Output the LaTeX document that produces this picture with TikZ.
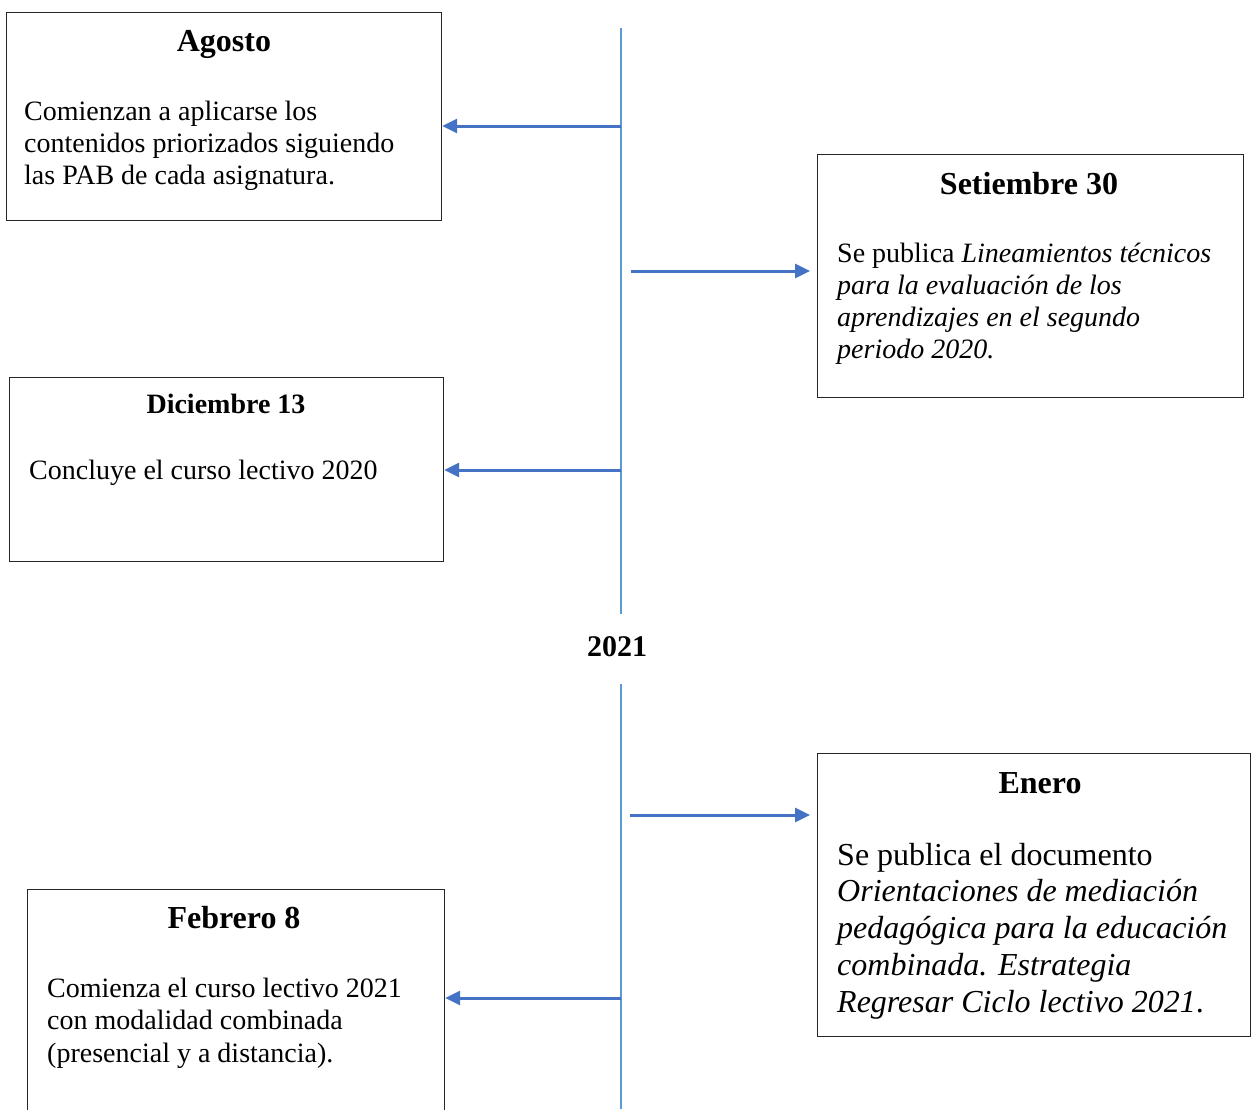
\documentclass[tikz,border=0pt]{standalone}
\usepackage{fontspec}
\setmainfont{Liberation Serif}
\usetikzlibrary{arrows.meta, positioning}
\definecolor{tlblue}{HTML}{5B9BD5}
\definecolor{arblue}{HTML}{4472C4}
\tikzset{
  evbox/.style={draw=black!85, line width=1.2pt, rectangle, anchor=north west, inner sep=0pt},
  evtitle/.style={font=\fontsize{32}{37}\selectfont\bfseries, anchor=base, inner sep=0pt},
  evtext/.style={font=\fontsize{28}{32.2}\selectfont, align=left, anchor=base west, inner sep=0pt},
  tline/.style={draw=tlblue, line width=2.4pt},
  evarrow/.style={draw=arblue, line width=3pt, -{Triangle[length=15pt, width=14pt]}}
}

\begin{document}
\begin{tikzpicture}[x=1pt, y=-1pt]
  \useasboundingbox (0,0) rectangle (1252,1109);
  % timeline
  \node[evtitle, font=\fontsize{30}{35}\selectfont\bfseries] (yr) at (617,656) {2021};
  \coordinate (ttop) at (621,28);
  \coordinate (tmid1) at (621,614);
  \coordinate (tmid2) at (621,684);
  \coordinate (tbot) at (621,1109);
  \draw[tline] (ttop) -- (tmid1);
  \draw[tline] (tmid2) -- (tbot);
  % (base of a text block = baseline of its last line)
  \node[evbox, minimum width=435, minimum height=208] (agosto) at (6,12) {};
  \node[evtitle] (agostoT) at (224,51.5) {Agosto};
  \node[evtext] (agostoB) at (24,184.4) {Comienzan a aplicarse los\\contenidos priorizados siguiendo\\las PAB de cada asignatura.};
  \coordinate (pA) at (621,126);
  \draw[evarrow] (pA) -- (pA -| agosto.east);
  %
  \node[evbox, minimum width=426, minimum height=243] (setiembre) at (817,154) {};
  \node[evtitle] (setiembreT) at (1029,194.5) {Setiembre 30};
  \node[evtext] (setiembreB) at (837,358.6) {Se publica \textit{Lineamientos técnicos}\\\textit{para la evaluación de los}\\\textit{aprendizajes en el segundo}\\\textit{periodo 2020.}};
  \coordinate (pS) at (631,271);
  \draw[evarrow, shorten >=7pt] (pS) -- (pS -| setiembre.west);
  %
  \node[evbox, minimum width=434, minimum height=184] (diciembre) at (9,377) {};
  \node[evtitle, font=\fontsize{28}{32}\selectfont\bfseries] (diciembreT) at (226,413) {Diciembre 13};
  \node[evtext] (diciembreB) at (29,479) {Concluye el curso lectivo 2020};
  \coordinate (pD) at (621,470);
  \draw[evarrow] (pD) -- (pD -| diciembre.east);
  %
  \node[evbox, minimum width=433, minimum height=283] (enero) at (817,753) {};
  \node[evtitle] (eneroT) at (1040,793.5) {Enero};
  \node[evtext, font=\fontsize{32}{36.8}\selectfont] (eneroB) at (837,1012.2) {Se publica el documento\\\textit{Orientaciones de mediación}\\\textit{pedagógica para la educación}\\\textit{combinada. Estrategia}\\\textit{Regresar Ciclo lectivo 2021}.};
  \coordinate (pE) at (630,815);
  \draw[evarrow, shorten >=7pt] (pE) -- (pE -| enero.west);
  %
  \node[evbox, minimum width=417, minimum height=240] (febrero) at (27,889) {};
  \node[evtitle] (febreroT) at (234,928.5) {Febrero 8};
  \node[evtext] (febreroB) at (47,1062) {Comienza el curso lectivo 2021\\con modalidad combinada\\(presencial y a distancia).};
  \coordinate (pF) at (621,998);
  \draw[evarrow] (pF) -- (pF -| febrero.east);
\end{tikzpicture}
\end{document}
